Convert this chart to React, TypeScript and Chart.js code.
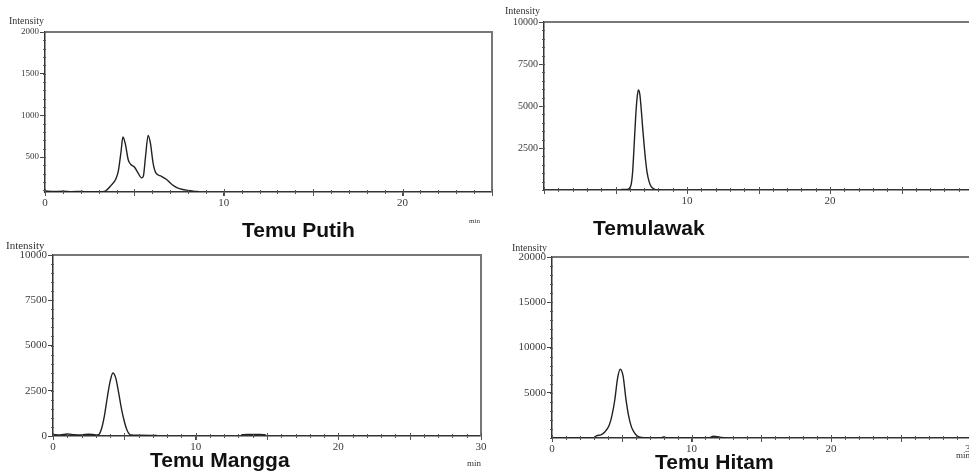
import React, { useEffect, useRef } from "react";
import { Chart, registerables } from "chart.js";
Chart.register(...registerables);

// ---------- DATA ----------
// Temu Putih
const putihTime = [0, 0.5, 1, 1.5, 2, 2.2, 2.8, 3.2, 3.4, 3.7, 3.95, 4.1, 4.25, 4.36, 4.5, 4.65, 4.8, 5.0, 5.2, 5.4, 5.5, 5.62, 5.77, 5.9, 6.05, 6.2, 6.5, 6.8, 7.1, 7.4, 7.7, 8.0, 8.3, 8.6];
const putihIntensity = [92, 86, 90, 85, 88, 84, 81, 83, 95, 160, 230, 330, 560, 740, 650, 470, 410, 380, 310, 250, 270, 500, 760, 660, 420, 310, 270, 230, 170, 130, 110, 100, 90, 84];
const putihXLabels = [0, 10, 20];
const putihYLabels = [500, 1000, 1500, 2000];

// Temulawak
const lawakTime = [5.4, 5.8, 5.95, 6.1, 6.2, 6.3, 6.4, 6.5, 6.6, 6.7, 6.8, 6.9, 7.0, 7.1, 7.2, 7.35, 7.5, 7.7, 7.9, 8.2];
const lawakIntensity = [40, 40, 80, 350, 1100, 2600, 4200, 5400, 5950, 5700, 4800, 3700, 2700, 1800, 1100, 500, 200, 60, 0, 0];
const lawakXLabels = [10, 20];
const lawakYLabels = [2500, 5000, 7500, 10000];

// Temu Mangga
const manggaTime = [0, 0.5, 1, 1.5, 2, 2.5, 3, 3.2, 3.4, 3.6, 3.8, 4.0, 4.2, 4.4, 4.6, 4.8, 5.0, 5.2, 5.45, 6, 7.3, 7.6, 13.2, 13.6, 14.0, 14.5, 14.9];
const manggaIntensity = [90, 60, 110, 70, 60, 100, 60, 80, 400, 1100, 2100, 3000, 3480, 3200, 2400, 1500, 800, 300, 60, 40, 25, null, 70, 90, 80, 90, 70];
const manggaXLabels = [0, 10, 20, 30];
const manggaYLabels = [0, 2500, 5000, 7500, 10000];

// Temu Hitam
const hitamTime = [0, 3.0, 3.2, 3.5, 3.8, 4.1, 4.3, 4.5, 4.7, 4.9, 5.1, 5.3, 5.5, 5.7, 5.9, 6.1, 6.4, 7.0, 7.8, 8.0, 8.2, 9, 11.2, 11.6, 12.0, 12.5];
const hitamIntensity = [0, 0, 250, 350, 700, 1400, 2500, 4200, 6600, 7600, 6800, 4300, 2400, 1200, 600, 250, 50, 0, 0, 120, 0, 0, 0, 200, 80, 0];
const hitamXLabels = [0, 10, 20, 30];
const hitamYLabels = [5000, 10000, 15000, 20000];

// ---------- PLUGIN: frame + minor ticks ----------
const framePlugin = {
  id: "chromFrame",
  afterDraw(chart: any, _args: any, opts: any) {
    const { ctx, chartArea: a, scales } = chart;
    const xs = scales.x;
    const ys = scales.y;
    ctx.save();
    ctx.strokeStyle = "#777";
    ctx.lineWidth = 2;
    ctx.beginPath();
    ctx.moveTo(a.left, a.top);
    ctx.lineTo(a.right, a.top);
    if (opts.right) ctx.lineTo(a.right, a.bottom);
    ctx.stroke();

    ctx.strokeStyle = "#555";
    ctx.lineWidth = 1;
    ctx.beginPath();
    const n = Math.round((xs.max - xs.min) / opts.minorX);
    for (let i = 0; i <= n; i++) {
      const v = xs.min + i * opts.minorX;
      const px = Math.round(xs.getPixelForValue(v)) + 0.5;
      const mid = Math.abs(v % 5) < 1e-6;
      ctx.moveTo(px, a.bottom - (mid ? 3 : 2));
      ctx.lineTo(px, a.bottom + (mid ? 4 : 2));
    }
    const m = Math.round((ys.max - ys.min) / opts.minorY);
    for (let i = 0; i <= m; i++) {
      const v = Math.ceil(ys.min / opts.minorY) * opts.minorY + i * opts.minorY;
      if (v > ys.max) break;
      const py = Math.round(ys.getPixelForValue(v)) + 0.5;
      ctx.moveTo(a.left - 2, py);
      ctx.lineTo(a.left + 1, py);
    }
    ctx.stroke();
    ctx.restore();
  },
};

type PanelDef = {
  left: number; top: number; w: number; h: number;
  pad: { left: number; top: number; right: number; bottom: number };
  yWidth: number; xHeight: number;
  time: number[]; values: (number | null)[];
  xMin: number; xMax: number; yMin: number; yMax: number;
  xLabels: number[]; yLabels: number[];
  minorX: number; minorY: number; right: boolean; yFont: number;
};

function Panel({ d }: { d: PanelDef }) {
  const ref = useRef<HTMLCanvasElement>(null);
  useEffect(() => {
    const points = d.time.map((t, i) => ({ x: t, y: d.values[i] }));
    const chart = new Chart(ref.current as HTMLCanvasElement, {
      type: "line",
      data: {
        datasets: [
          {
            data: points as any,
            borderColor: "#222",
            borderWidth: 1.4,
            pointRadius: 0,
            cubicInterpolationMode: "monotone",
            spanGaps: false,
            fill: false,
          },
        ],
      },
      options: {
        responsive: false,
        animation: false,
        devicePixelRatio: 1,
        parsing: false as any,
        layout: { padding: d.pad },
        plugins: {
          legend: { display: false },
          tooltip: { enabled: false },
          chromFrame: { minorX: d.minorX, minorY: d.minorY, right: d.right },
        } as any,
        scales: {
          x: {
            type: "linear",
            min: d.xMin,
            max: d.xMax,
            afterBuildTicks: (s: any) => { s.ticks = d.xLabels.map((v) => ({ value: v })); },
            afterFit: (s: any) => { s.height = d.xHeight; },
            ticks: {
              font: { family: "'Liberation Serif', serif", size: 11 },
              color: "#3a3a3a",
              padding: 1,
              maxRotation: 0,
              autoSkip: false,
              callback: (v: any) => String(v),
            },
            grid: { drawOnChartArea: false, drawTicks: true, tickLength: 4, color: "#444" },
            border: { display: true, color: "#333", width: 1.5 },
          },
          y: {
            type: "linear",
            min: d.yMin,
            max: d.yMax,
            afterBuildTicks: (s: any) => { s.ticks = d.yLabels.map((v) => ({ value: v })); },
            afterFit: (s: any) => { s.width = d.yWidth; },
            ticks: {
              font: { family: "'Liberation Serif', serif", size: d.yFont },
              color: "#3a3a3a",
              padding: 1,
              autoSkip: false,
              callback: (v: any) => String(v),
            },
            grid: { drawOnChartArea: false, drawTicks: true, tickLength: 5, color: "#444" },
            border: { display: true, color: "#333", width: 1.5 },
          },
        },
      },
      plugins: [framePlugin as any],
    });
    return () => chart.destroy();
  }, []);
  return (
    <canvas
      ref={ref}
      width={d.w}
      height={d.h}
      style={{ position: "absolute", left: d.left, top: d.top, width: d.w, height: d.h }}
    />
  );
}

const panels: PanelDef[] = [
  {
    left: 0, top: 0, w: 500, h: 240,
    pad: { left: 0, top: 32, right: 8, bottom: 28 }, yWidth: 45, xHeight: 20,
    time: putihTime, values: putihIntensity, xMin: 0, xMax: 25, yMin: 80, yMax: 2000,
    xLabels: putihXLabels, yLabels: putihYLabels, minorX: 1, minorY: 100, right: true, yFont: 9,
  },
  {
    left: 500, top: 0, w: 477, h: 240,
    pad: { left: 0, top: 22, right: 4, bottom: 30 }, yWidth: 44, xHeight: 20,
    time: lawakTime, values: lawakIntensity, xMin: 0, xMax: 30, yMin: 0, yMax: 10000,
    xLabels: lawakXLabels, yLabels: lawakYLabels, minorX: 1, minorY: 500, right: true, yFont: 10,
  },
  {
    left: 0, top: 240, w: 500, h: 235,
    pad: { left: 0, top: 15, right: 19, bottom: 19 }, yWidth: 53, xHeight: 20,
    time: manggaTime, values: manggaIntensity, xMin: 0, xMax: 30, yMin: 0, yMax: 10000,
    xLabels: manggaXLabels, yLabels: manggaYLabels, minorX: 1, minorY: 500, right: true, yFont: 11,
  },
  {
    left: 500, top: 240, w: 477, h: 235,
    pad: { left: 0, top: 17, right: 6, bottom: 17 }, yWidth: 52, xHeight: 20,
    time: hitamTime, values: hitamIntensity, xMin: 0, xMax: 30, yMin: 0, yMax: 20000,
    xLabels: hitamXLabels, yLabels: hitamYLabels, minorX: 1, minorY: 1000, right: true, yFont: 11,
  },
];

const titleStyle: React.CSSProperties = {
  position: "absolute",
  fontFamily: "'Liberation Sans', Arial, sans-serif",
  fontWeight: "bold",
  fontSize: 21,
  lineHeight: "21px",
  color: "#111",
  whiteSpace: "nowrap",
};

const smallStyle: React.CSSProperties = {
  position: "absolute",
  fontFamily: "'Liberation Serif', serif",
  color: "#333",
  whiteSpace: "nowrap",
  lineHeight: "10px",
};

export default function App() {
  return (
    <div
      style={{
        position: "fixed",
        left: 0,
        top: 0,
        width: 969,
        height: 475,
        overflow: "hidden",
        background: "#fff",
      }}
    >
      {panels.map((p, i) => (
        <Panel key={i} d={p} />
      ))}
      <div style={{ ...smallStyle, left: 9, top: 16, fontSize: 10 }}>Intensity</div>
      <div style={{ ...smallStyle, left: 505, top: 6, fontSize: 10 }}>Intensity</div>
      <div style={{ ...smallStyle, left: 6, top: 240, fontSize: 11 }}>Intensity</div>
      <div style={{ ...smallStyle, left: 512, top: 243, fontSize: 10 }}>Intensity</div>
      <div style={{ ...smallStyle, left: 469, top: 216, fontSize: 7 }}>min</div>
      <div style={{ ...smallStyle, left: 467, top: 458, fontSize: 9 }}>min</div>
      <div style={{ ...smallStyle, left: 956, top: 450, fontSize: 9 }}>min</div>
      <div style={{ ...titleStyle, left: 242, top: 219 }}>Temu Putih</div>
      <div style={{ ...titleStyle, left: 593, top: 217 }}>Temulawak</div>
      <div style={{ ...titleStyle, left: 150, top: 449 }}>Temu Mangga</div>
      <div style={{ ...titleStyle, left: 655, top: 451 }}>Temu Hitam</div>
    </div>
  );
}
